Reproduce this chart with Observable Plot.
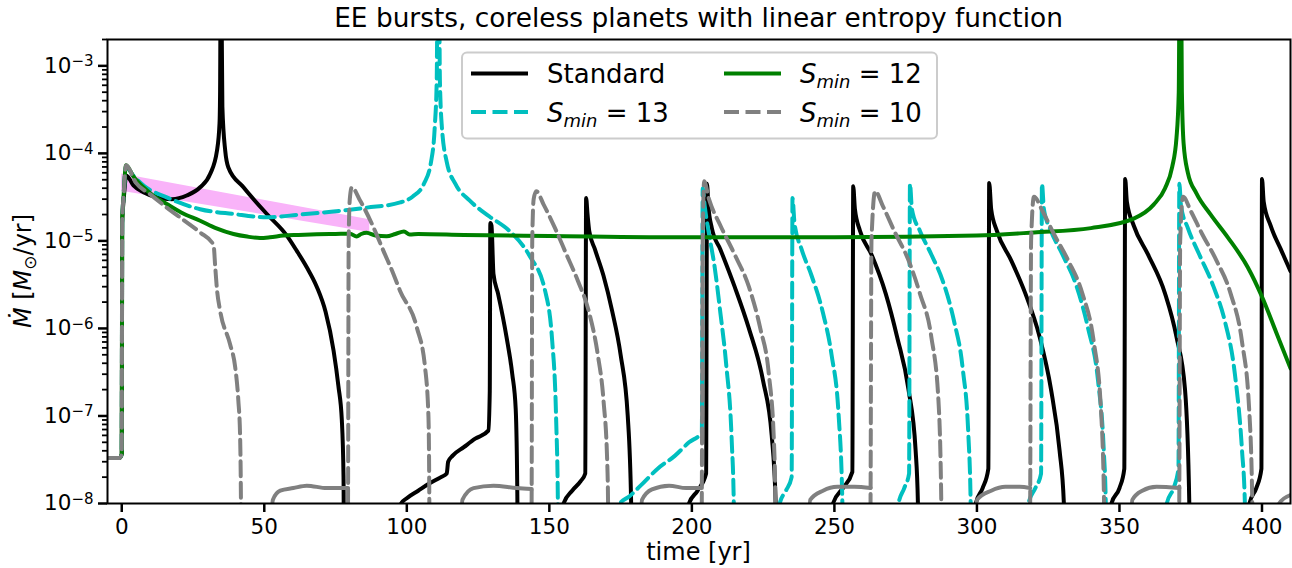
<!DOCTYPE html>
<html><head><meta charset="utf-8">
<script src="https://cdn.jsdelivr.net/npm/d3@7"></script>
<script src="https://cdn.jsdelivr.net/npm/@observablehq/plot@0.6"></script>
<style>
body{margin:0;background:#fff;}
svg{font-family:"DejaVu Sans";}
</style>
</head><body><div id="chart"></div>
<script>
// ---- data: [time (yr), Mdot (Msun/yr)] ----
const standard = [
[-5,3.3e-8],[-1,3.3e-8],[-0.3,3.45e-8],[0,3.7e-8],[0.15,1.6e-5],[0.7,3e-5],[1.6,5.6e-5],[4.1,4.3e-5],[7.6,3.6e-5],[12.3,3.15e-5],[17.6,3.0e-5],[22.8,3.3e-5],[27.5,4.1e-5],[31,5.8e-5],[33.4,1.07e-4],[34.3,2.2e-4],[34.5,5.2e-4],[34.7,1e-2],[34.9,1e-2],[35.3,3.4e-4],[36.3,1.07e-4],[37.4,6.9e-5],[42.7,4.1e-5],[50.9,2.03e-5],[57.9,1.15e-5],[61.4,7.7e-6],[64.9,5.0e-6],[68.4,3.0e-6],[71.5,1.55e-6],[74.3,5.6e-7],[76,2.2e-7],[77.2,9e-8],[77.8,2e-8],[78,1e-9],
[97.6,1e-9],[98,1.0e-8],[100,1.15e-8],[104,1.4e-8],[108,1.7e-8],[112,2.0e-8],[114,2.2e-8],[114.5,3.0e-8],[116,3.5e-8],[120,4.4e-8],[124,5.5e-8],[128.6,6.8e-8],[129.1,1.9e-7],[129.3,1.6e-5],[129.7,1.5e-5],[130.4,4.2e-6],[132,2.5e-6],[135,7.9e-7],[137,3e-7],[138.2,1.2e-7],[138.8,1e-8],[139,1e-9],
[154.5,1e-9],[155,1e-8],[158,1.4e-8],[161,1.8e-8],[162.6,2.2e-8],[162.9,3.1e-5],[163.4,2e-5],[164,1.3e-5],[166,8e-6],[169,4e-6],[172,1.6e-6],[175,5e-7],[177.5,1e-7],[178.7,1e-8],[179,1e-9],
[198.5,1e-9],[199,1e-8],[202,1.4e-8],[205,2.2e-8],[205.3,4.5e-5],[205.8,2.5e-5],[207,1.4e-5],[210,8e-6],[215,3e-6],[220,1e-6],[225,2.5e-7],[228,6e-8],[229.4,1e-8],[229.6,1e-9],
[249,1e-9],[249.5,1e-8],[253,1.5e-8],[256.3,2.3e-8],[256.6,4.2e-5],[257.2,2.3e-5],[259,1.3e-5],[263,7e-6],[268,2.5e-6],[272,8e-7],[276,2e-7],[278.5,4e-8],[279.3,1e-8],[279.5,1e-9],
[299.3,1e-9],[299.6,1e-8],[302,1.5e-8],[304,2.5e-8],[304.3,4.6e-5],[305,2.3e-5],[307,1.3e-5],[312,6e-6],[317,2.5e-6],[322,8e-7],[326,2e-7],[329,4e-8],[330.5,1e-8],[330.7,1e-9],
[346.8,1e-9],[347.2,1e-8],[350,1.5e-8],[351.7,2.5e-8],[352,5.1e-5],[352.6,2.8e-5],[355,1.5e-5],[360,7e-6],[366,2.5e-6],[370,8e-7],[373,2e-7],[374.5,1e-8],[374.8,1e-9],
[395.3,1e-9],[395.6,1e-8],[398,1.5e-8],[399.8,2.5e-8],[400,5.1e-5],[400.6,2.8e-5],[403,1.5e-5],[407,7.5e-6],[410,4.5e-6]
];
const smin13 = [
[-5,3.3e-8],[-1,3.3e-8],[-0.3,3.45e-8],[0,3.7e-8],[0.15,1.6e-5],[0.7,3.5e-5],[1.5,7e-5],[4,5.6e-5],[8,4.2e-5],[15.8,3.14e-5],[27.5,2.3e-5],[39.2,2.03e-5],[50.9,1.86e-5],[62.6,2.0e-5],[74.3,2.17e-5],[86,2.4e-5],[97.7,2.75e-5],[102,3.2e-5],[106,4.5e-5],[108.5,8e-5],[109.8,2e-4],[110.5,7e-4],[110.8,1e-2],[111.3,1e-2],[111.6,7e-4],[112.3,2e-4],[114,8e-5],[117,4.5e-5],[122,2.9e-5],[129,1.9e-5],[136,1.3e-5],[143,6.8e-6],[148.5,2.7e-6],[151,7.2e-7],[152.4,8.8e-8],[153,1e-8],[153.2,1e-9],
[174.5,1e-9],[174.8,1e-8],[178,1.2e-8],[182,1.6e-8],[188,2.5e-8],[194,3.5e-8],[199,5e-8],[203.5,6.5e-8],[203.8,4e-5],[204.5,2.5e-5],[206,1.2e-5],[208,5e-6],[210,1.5e-6],[212,4e-7],[214,5e-8],[214.7,1e-8],[215,1e-9],
[230.5,1e-9],[230.8,1e-8],[233,1.4e-8],[235,2e-8],[235.3,3.1e-5],[236,1.6e-5],[238.5,8e-6],[242,4e-6],[246,1.5e-6],[249,5e-7],[251.5,1e-7],[252.8,1e-8],[253,1e-9],
[272.2,1e-9],[272.5,1e-8],[274.5,1.5e-8],[276.2,2.2e-8],[276.5,4.5e-5],[277.2,2.3e-5],[280,1.3e-5],[284,7e-6],[288,3.5e-6],[292,1.2e-6],[295,3.5e-7],[297,6e-8],[297.8,1e-8],[298,1e-9],
[317.8,1e-9],[318.1,1e-8],[320.5,1.5e-8],[322.5,2.2e-8],[322.8,4.5e-5],[323.5,2.3e-5],[326,1.3e-5],[330,7e-6],[335,3e-6],[339,1e-6],[342.5,2.5e-7],[344.5,4e-8],[345.2,1e-8],[345.4,1e-9],
[366.3,1e-9],[366.6,1e-8],[369,1.5e-8],[370.7,2.5e-8],[371,4.5e-5],[371.6,2.5e-5],[374,1.4e-5],[378,7e-6],[383,3e-6],[387,1.2e-6],[390.5,3e-7],[393,4e-8],[394,1e-8],[394.2,1e-9]
];
const smin12 = [
[-5,3.3e-8],[-1,3.3e-8],[-0.3,3.45e-8],[0,3.7e-8],[0.15,1.6e-5],[0.7,3.5e-5],[1.5,7.3e-5],[4,5.5e-5],[7.6,4.1e-5],[11,3.3e-5],[15.8,2.64e-5],[21,2.1e-5],[27.5,1.7e-5],[33,1.4e-5],[39.2,1.2e-5],[44,1.12e-5],[48.5,1.08e-5],[52,1.1e-5],[56.7,1.15e-5],[62,1.17e-5],[68.4,1.19e-5],[75,1.2e-5],[80.1,1.21e-5],[82.4,1.12e-5],[84,1.2e-5],[85.9,1.24e-5],[89,1.15e-5],[92.9,1.13e-5],[96,1.2e-5],[99,1.28e-5],[101,1.18e-5],[104,1.2e-5],[120,1.17e-5],[150,1.14e-5],[200,1.1e-5],[250,1.1e-5],[300,1.15e-5],[320,1.25e-5],[340,1.4e-5],[355,1.8e-5],[362,2.6e-5],[366,4e-5],[368.5,7e-5],[370,1.5e-4],[370.8,5e-4],[371.1,1e-2],[371.6,1e-2],[371.9,5e-4],[372.5,1.3e-4],[374,6e-5],[377,3.5e-5],[382,2e-5],[388,1.1e-5],[395,5e-6],[400,2.3e-6],[405,9e-7],[410,3.5e-7]
];
const smin10 = [
[-5,3.3e-8],[-1,3.3e-8],[-0.3,3.45e-8],[0,3.7e-8],[0.15,1.6e-5],[0.7,3.5e-5],[1.5,7.3e-5],[5,4.6e-5],[10,3.4e-5],[15.8,2.4e-5],[22.8,1.63e-5],[27.5,1.25e-5],[32.2,9e-6],[32.8,5e-6],[33.4,2.8e-6],[34.5,1.6e-6],[38,6.6e-7],[39.8,3.6e-7],[40.9,1.5e-7],[41.5,6.2e-8],[41.8,1.2e-8],[42,1e-9],
[79.2,1e-9],[79.4,1.5e-8],[79.6,1e-5],[80,3e-5],[80.7,4.1e-5],[83.6,2.9e-5],[88.3,1.43e-5],[91.8,7.7e-6],[95.3,4.2e-6],[97.6,2.7e-6],[103.5,1.03e-6],[106.4,3.6e-7],[107.6,9.6e-8],[107.9,1e-8],[108,1e-9],
[143.6,1e-9],[143.8,1.46e-8],[144,1e-5],[144.5,3e-5],[145.4,3.7e-5],[148,2.6e-5],[152,1.4e-5],[156,7e-6],[160,3.5e-6],[164,1.5e-6],[167,5e-7],[169,1.5e-7],[170.3,3e-8],[170.6,1e-8],[170.8,1e-9],
[203.3,1e-9],[203.5,1.5e-8],[203.8,1e-5],[204.3,4.8e-5],[206,3e-5],[210,1.5e-5],[215,7e-6],[220,3e-6],[224,1e-6],[227,3e-7],[228.8,5e-8],[229.3,1e-8],[229.5,1e-9],
[262.5,1e-9],[262.7,1.5e-8],[263,1e-5],[264.3,3.7e-5],[267,2.5e-5],[271,1.3e-5],[276,6e-6],[280,2.5e-6],[284,8e-7],[286.5,1.5e-7],[287.5,1e-8],[287.7,1e-9],
[318.5,1e-9],[318.7,1.5e-8],[319,1e-5],[320,3.2e-5],[323,2.2e-5],[327,1.2e-5],[332,6e-6],[337,2.5e-6],[341,7e-7],[343.5,1.2e-7],[344.6,1e-8],[344.8,1e-9],
[370.8,1e-9],[371,1.5e-8],[371.3,1e-5],[372.3,3.2e-5],[375,2.2e-5],[379,1.2e-5],[384,6e-6],[389,2.5e-6],[393,7e-7],[395.5,1.2e-7],[396.6,1e-8],[396.8,1e-9]
];
const smin10Quiet = [
[51.8,1e-9],[53,1.1e-8],[55.6,1.4e-8],[60.2,1.5e-8],[64.9,1.6e-8],[71.9,1.5e-8],[79.4,1.5e-8],[null,null],
[118.5,1e-9],[119.5,1.1e-8],[123.4,1.5e-8],[130.4,1.6e-8],[138.6,1.5e-8],[143.8,1.46e-8],[null,null],
[181.5,1e-9],[182.5,1.1e-8],[186,1.45e-8],[192,1.6e-8],[198,1.5e-8],[203.5,1.5e-8],[null,null],
[240.5,1e-9],[241.5,1.1e-8],[246,1.4e-8],[251,1.55e-8],[257,1.55e-8],[262.7,1.5e-8],[null,null],
[299,1e-9],[300,1.1e-8],[305,1.4e-8],[310,1.55e-8],[315,1.55e-8],[318.7,1.5e-8],[null,null],
[353.5,1e-9],[354.5,1.1e-8],[358,1.4e-8],[363,1.55e-8],[371,1.5e-8],[null,null],
[405,1e-9],[406,1e-8],[410,1.25e-8]
];
// shaded band: [time, lower, upper]
const band = [[0,3.7e-5,5.8e-5],[87,1.25e-5,1.74e-5]];
const xTicks = [0,50,100,150,200,250,300,350,400];
const yExps = [-8,-7,-6,-5,-4,-3];
const yTicks = yExps.map(e => Math.pow(10, e));
const yMinor = [];
for (const e of yExps) for (let m = 2; m <= 9; m++) { const v = m * Math.pow(10, e); if (v <= 2.0001e-3) yMinor.push(v); }

const rows = a => a.map(([t, v]) => ({t, v}));
const dash = "15,6.5";
const LW = 4;
const crv = "monotone-x";
const plot = Plot.plot({
  width: 1292, height: 568,
  marginLeft: 107, marginRight: 2, marginTop: 39, marginBottom: 65,
  style: {fontFamily: "DejaVu Sans", background: "white", color: "black"},
  x: {domain: [-5, 410]},
  y: {type: "log", domain: [1e-8, 2e-3]},
  marks: [
    Plot.areaY(band.map(([t, lo, hi]) => ({t, lo, hi})), {x: "t", y1: "lo", y2: "hi", fill: "#f9b3f9", curve: "linear"}),
    Plot.line(rows(standard), {x: "t", y: "v", stroke: "black", strokeWidth: LW, curve: crv, clip: true}),
    Plot.line(rows(smin13), {x: "t", y: "v", stroke: "#00bfbf", strokeWidth: LW, strokeDasharray: dash, curve: crv, clip: true}),
    Plot.line(rows(smin12), {x: "t", y: "v", stroke: "green", strokeWidth: LW, curve: crv, clip: true}),
    Plot.line(rows(smin10), {x: "t", y: "v", stroke: "grey", strokeWidth: LW, strokeDasharray: dash, curve: crv, clip: true}),
    Plot.line(rows(smin10Quiet), {x: "t", y: "v", stroke: "grey", strokeWidth: LW, curve: crv, clip: true}),
    Plot.frame({stroke: "black", strokeWidth: 2}),
    Plot.axisX({ticks: xTicks, tickSize: 9, strokeWidth: 2.5, tickPadding: 6, fontSize: 21.5, label: null, tickFormat: d => String(d)}),
    Plot.axisY({ticks: yMinor, tickSize: 5, strokeWidth: 1.8, tickFormat: () => "", label: null}),
    Plot.axisY({ticks: yTicks, tickSize: 9, strokeWidth: 2.5, tickPadding: 5, fontSize: 21.5, label: null, tickFormat: d => "10^" + Math.round(Math.log10(d))})
  ]
});
document.getElementById("chart").appendChild(plot);

const svg = d3.select(plot);
// mathtext-style y tick labels
svg.selectAll('g[aria-label="y-axis tick label"] text').each(function() {
  const t = d3.select(this);
  const s = t.text();
  if (!s.startsWith("10^")) return;
  const e = s.slice(3).replace("-", "\u2212");
  t.text(null);
  t.append("tspan").text("10");
  t.append("tspan").attr("dy", "-0.45em").attr("font-size", "15px").text(e);
});
// title
svg.append("text").attr("x", 698.5).attr("y", 27).attr("text-anchor", "middle")
  .attr("font-size", 26.4).attr("fill", "black").text("EE bursts, coreless planets with linear entropy function");
// x label
svg.append("text").attr("x", 698.5).attr("y", 560).attr("text-anchor", "middle")
  .attr("font-size", 24).attr("fill", "black").text("time [yr]");
// y label
const yl = svg.append("text").attr("transform", "translate(31,271) rotate(-90)").attr("text-anchor", "middle")
  .attr("font-size", 24).attr("fill", "black");
yl.append("tspan").attr("font-style", "italic").text("M\u0307");
yl.append("tspan").text(" [");
yl.append("tspan").attr("font-style", "italic").text("M");
yl.append("tspan").attr("font-size", "17px").attr("dy", "5").text("\u2299");
yl.append("tspan").attr("dy", "-5").text("/yr]");
// legend
const lg = svg.append("g").attr("text-anchor", "start");
lg.append("rect").attr("x", 462).attr("y", 52.5).attr("width", 475).attr("height", 86).attr("rx", 5)
  .attr("fill", "white").attr("fill-opacity", 0.8).attr("stroke", "#cccccc").attr("stroke-width", 2);
const entries = [
  {x: 471, y: 73.5, color: "black", dash: null, label: "Standard", sub: false},
  {x: 471, y: 112, color: "#00bfbf", dash: dash, label: "13", sub: true},
  {x: 724, y: 73.5, color: "green", dash: null, label: "12", sub: true},
  {x: 724, y: 112, color: "grey", dash: dash, label: "10", sub: true}
];
for (const en of entries) {
  lg.append("line").attr("x1", en.x).attr("x2", en.x + 57).attr("y1", en.y).attr("y2", en.y)
    .attr("stroke", en.color).attr("stroke-width", LW).attr("stroke-dasharray", en.dash);
  const tx = lg.append("text").attr("x", en.x + 76).attr("y", en.y + 9.5).attr("font-size", 26).attr("fill", "black").attr("text-anchor", "start");
  if (!en.sub) tx.text(en.label);
  else {
    tx.append("tspan").attr("font-style", "italic").text("S");
    tx.append("tspan").attr("font-style", "italic").attr("font-size", "18px").attr("dy", "5").text("min");
    tx.append("tspan").attr("dy", "-5").text(" = " + en.label);
  }
}
</script>
</body></html>
